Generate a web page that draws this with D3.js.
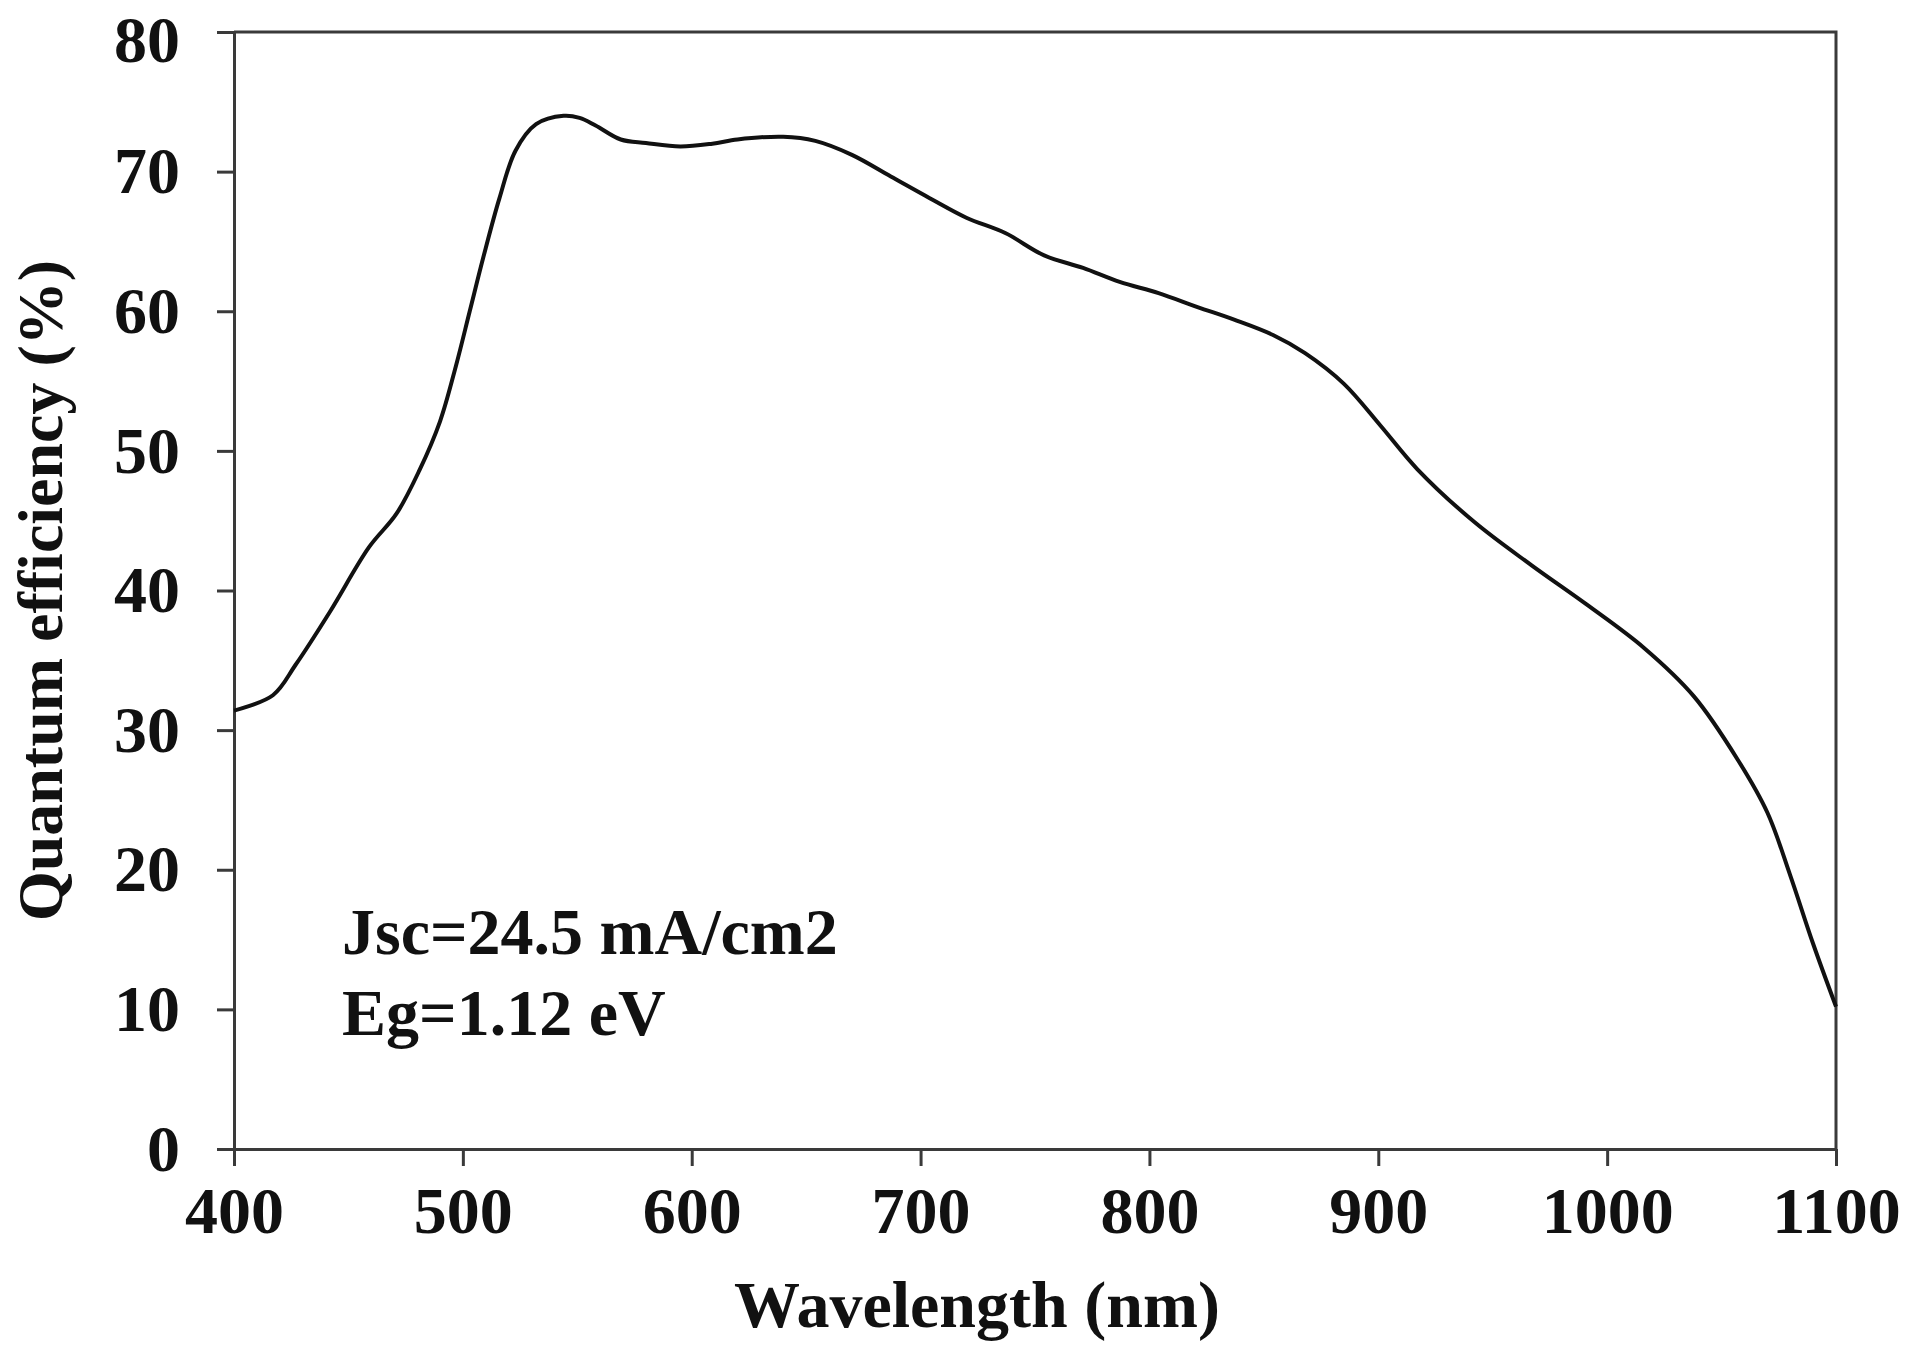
<!doctype html>
<html lang="en">
<head>
<meta charset="utf-8">
<title>Quantum efficiency</title>
<script src="https://d3js.org/d3.v7.min.js"></script>
<style>
  body { margin: 0; background: #fff; }
  .axis text { font-family: "Liberation Serif", "Times New Roman", serif; font-weight: bold; font-size: 66px; fill: #111; }
  .axis path, .axis line { stroke: #3a3a3a; stroke-width: 3px; }
  .title { font-family: "Liberation Serif", "Times New Roman", serif; font-weight: bold; fill: #111; }
</style>
</head>
<body>
<div id="chart"></div>
<script>
// wavelength (nm) and quantum efficiency (%)
var wavelength = [400, 417, 427, 442, 459, 471, 481, 490, 497, 503, 509, 516, 523, 532, 544, 551, 558, 569, 580, 595,
                  609, 620, 640, 654, 670, 687, 704, 720, 737, 754, 771, 787, 804, 821, 837, 854, 868, 885, 901, 917,
                  942, 967, 991, 1016, 1038, 1057, 1070, 1080, 1090, 1100];
var qe = [31.4, 32.5, 34.7, 38.5, 43.1, 45.5, 48.6, 52.1, 56.1, 60.0, 63.9, 68.1, 71.5, 73.4, 74.0, 73.85, 73.3, 72.3, 72.05, 71.8,
          72.0, 72.3, 72.5, 72.2, 71.2, 69.65, 68.1, 66.7, 65.6, 64.0, 63.1, 62.1, 61.3, 60.3, 59.4, 58.3, 57.0, 54.8, 51.8, 48.7,
          44.9, 41.8, 39.0, 35.9, 32.4, 27.9, 24.1, 19.6, 14.7, 10.2];
var xTicks = [400, 500, 600, 700, 800, 900, 1000, 1100];
var yTicks = [0, 10, 20, 30, 40, 50, 60, 70, 80];
var notes = ["Jsc=24.5 mA/cm2", "Eg=1.12 eV"];

var W = 1913, H = 1345;
var margin = {top: 32, right: 77, bottom: 196, left: 234},
    width = W - margin.left - margin.right,
    height = H - margin.top - margin.bottom;

var svg = d3.select("#chart").append("svg")
    .attr("width", W)
    .attr("height", H);
var g = svg.append("g")
    .attr("transform", "translate(" + margin.left + "," + margin.top + ")");

var x = d3.scaleLinear().domain([400, 1100]).range([0, width]);
var y = d3.scaleLinear().domain([0, 80]).range([height, 0]);

// frame (top and right)
g.append("path")
  .attr("d", "M0,0H" + width + "V" + height)
  .attr("fill", "none")
  .attr("stroke", "#3a3a3a")
  .attr("stroke-width", 3);

g.append("g")
  .attr("class", "axis")
  .attr("transform", "translate(0," + height + ")")
  .call(d3.axisBottom(x).tickValues(xTicks).tickSize(17).tickSizeOuter(0).tickPadding(20).tickFormat(d3.format("d")));

var yAxis = g.append("g")
  .attr("class", "axis")
  .call(d3.axisLeft(y).tickValues(yTicks).tickSize(17).tickSizeOuter(0).tickPadding(37).tickFormat(d3.format("d")));
// top label sits a little lower in the original
yAxis.selectAll(".tick text").filter(function(d) { return d === 80; }).attr("dy", "0.45em");

var pts = wavelength.map(function(d, i) { return [d, qe[i]]; });
var line = d3.line()
  .x(function(d) { return x(d[0]); })
  .y(function(d) { return y(d[1]); })
  .curve(d3.curveCatmullRom.alpha(0.5));

g.append("path")
  .datum(pts)
  .attr("fill", "none")
  .attr("stroke", "#111")
  .attr("stroke-width", 4)
  .attr("d", line);

// annotations
g.selectAll(".note")
  .data(notes)
  .enter().append("text")
    .attr("class", "title note")
    .attr("x", 342 - margin.left)
    .attr("y", function(d, i) { return 954 - margin.top + i * 81; })
    .style("font-size", "66px")
    .text(function(d) { return d; });

// axis titles
svg.append("text")
  .attr("class", "title")
  .attr("x", 977)
  .attr("y", 1327)
  .attr("text-anchor", "middle")
  .style("font-size", "66px")
  .text("Wavelength (nm)");

svg.append("text")
  .attr("class", "title")
  .attr("transform", "translate(62," + (margin.top + height / 2) + ") rotate(-90)")
  .attr("text-anchor", "middle")
  .style("font-size", "64px")
  .text("Quantum efficiency (%)");
</script>
</body>
</html>
